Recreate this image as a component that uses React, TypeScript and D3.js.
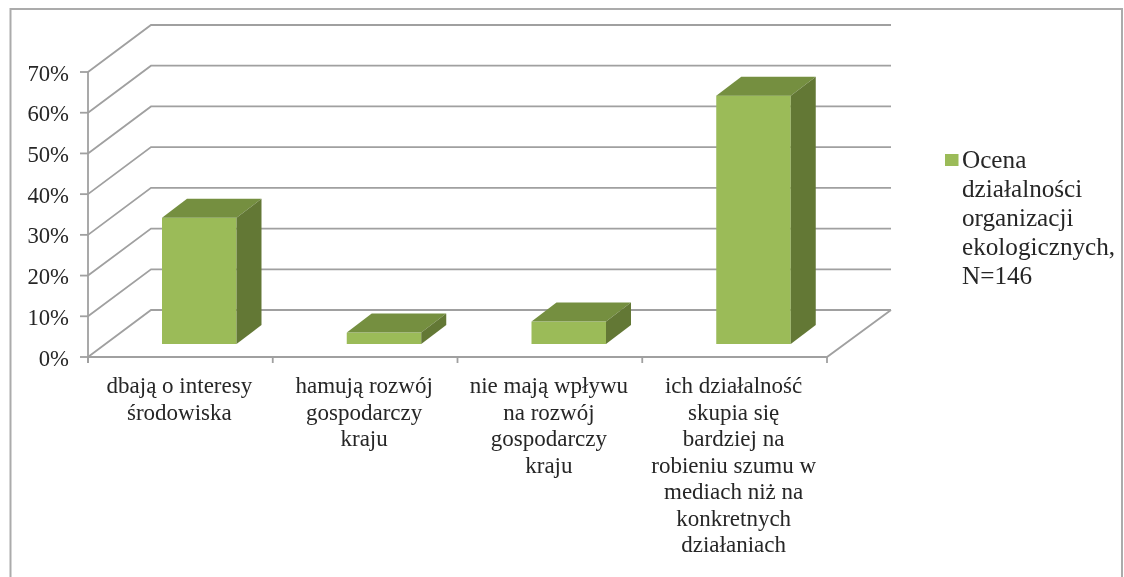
import React from "react";
import * as d3 from "d3";

const categories = ["dbają o interesy", "hamują rozwój", "nie mają wpływu", "ich działalność"];
const categoryLines = [
  ["dbają o interesy", "środowiska"],
  ["hamują rozwój", "gospodarczy", "kraju"],
  ["nie mają wpływu", "na rozwój", "gospodarczy", "kraju"],
  ["ich działalność", "skupia się", "bardziej na", "robieniu szumu w", "mediach niż na", "konkretnych", "działaniach"],
];
const values = [31, 2.8, 5.5, 61];
const yTicks = [0, 10, 20, 30, 40, 50, 60, 70];
const legendLines = ["Ocena", "działalności", "organizacji", "ekologicznych,", "N=146"];

const W = 1124, H = 577;
const GRID = "#a0a0a0";
const FONT = "'Liberation Serif', serif";
const TEXT = "#262626";

export default function App() {
  const y = d3.scaleLinear().domain([0, 70]).range([357, 72]);
  const x = d3.scaleBand<number>().domain(d3.range(categories.length)).range([88, 827]);
  const depth = { dx: 63, dy: -47 };
  const barDepth = { dx: 25, dy: -19 };
  const barW = 74.5;
  const barFloor = { dx: 74, dy: -13 };
  const line = d3.line();

  return (
    <svg width={W} height={H} style={{ position: "absolute", left: 0, top: 0, background: "#fff" }}>
      <defs>
        <filter id="soft" x="-2%" y="-2%" width="104%" height="104%">
          <feGaussianBlur stdDeviation="0.45" />
        </filter>
      </defs>
      <g filter="url(#soft)">
        <path d={`M10.5,${H} V9 H1122 V${H}`} fill="none" stroke="#ababab" strokeWidth={2} />

        {yTicks.map((t) => (
          <path
            key={t}
            d={line([
              [88, y(t)],
              [88 + depth.dx, y(t) + depth.dy],
              [827 + depth.dx + 1, y(t) + depth.dy],
            ]) ?? ""}
            fill="none"
            stroke={GRID}
            strokeWidth={1.8}
          />
        ))}
        <path d={`M88,${y(0)} H827 L${827 + depth.dx + 1},${y(0) + depth.dy}`} fill="none" stroke={GRID} strokeWidth={1.8} />
        <path d={`M88,${y(70)} V${y(0) + 6}`} fill="none" stroke={GRID} strokeWidth={1.8} />
        {yTicks.map((t) => (
          <path key={t} d={`M80,${y(t)} H88`} fill="none" stroke={GRID} strokeWidth={1.8} />
        ))}
        {d3.range(categories.length + 1).map((i) => {
          const px = i < categories.length ? x(i)! : 827;
          return <path key={i} d={`M${px},${y(0)} V${y(0) + 6}`} fill="none" stroke={GRID} strokeWidth={1.8} />;
        })}

        {values.map((v, i) => {
          const x0 = x(i)! + barFloor.dx;
          const x1 = x0 + barW;
          const yb = y(0) + barFloor.dy;
          const yt = yb - (y(0) - y(v));
          const { dx, dy } = barDepth;
          return (
            <g key={categories[i]}>
              <rect x={x0} y={yt} width={barW} height={yb - yt} fill="#9bbb59" />
              <polygon
                points={`${x0},${yt} ${x0 + dx},${yt + dy} ${x1 + dx},${yt + dy} ${x1},${yt}`}
                fill="#748f40"
              />
              <polygon
                points={`${x1},${yt} ${x1 + dx},${yt + dy} ${x1 + dx},${yb + dy} ${x1},${yb}`}
                fill="#647836"
              />
            </g>
          );
        })}

        <g fontFamily={FONT} fontSize={22.7} fill={TEXT}>
          {yTicks.map((t) => (
            <text key={t} x={69} y={y(t) + 8.5} textAnchor="end">{`${t}%`}</text>
          ))}
          {categoryLines.map((lines, i) => (
            <text key={i} textAnchor="middle" fontSize={23}>
              {lines.map((l, j) => (
                <tspan key={j} x={x(i)! + x.bandwidth() / 2 - 1} y={393 + j * 26.5}>{l}</tspan>
              ))}
            </text>
          ))}
          <rect x={945} y={154} width={13.5} height={12} fill="#9bbb59" />
          <text fontSize={25.2}>
            {legendLines.map((l, j) => (
              <tspan key={j} x={962} y={167.5 + j * 29}>{l}</tspan>
            ))}
          </text>
        </g>
      </g>
    </svg>
  );
}
